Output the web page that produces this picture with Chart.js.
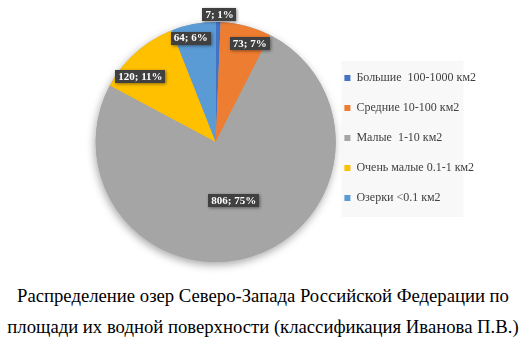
<!DOCTYPE html>
<html><head><meta charset="utf-8">
<script src="https://cdn.jsdelivr.net/npm/chart.js@4"></script>
<style>
html,body{margin:0;padding:0;background:#fff;width:526px;height:354px;overflow:hidden;}
#wrap{position:absolute;left:0;top:0;width:526px;height:275px;}
#cap{position:absolute;left:0;top:280px;width:526px;text-align:center;font-family:"Liberation Serif",serif;font-size:18.7px;line-height:31px;color:#000;white-space:nowrap;}
</style></head>
<body>
<div id="wrap"><canvas id="c" width="526" height="275"></canvas></div>
<div id="cap">Распределение озер Северо-Запада Российской Федерации по<br>площади их водной поверхности (классификация Иванова П.В.)</div>
<script>
const categories = ["Большие  100-1000 км2","Средние 10-100 км2","Малые  1-10 км2","Очень малые 0.1-1 км2","Озерки <0.1 км2"];
const counts = [7, 73, 806, 120, 64];
const percents = [1, 7, 75, 11, 6];
const colors = ["#4472C4","#ED7D31","#A5A5A5","#FFC000","#5B9BD5"];

const labelRadius = [1.06, 0.87, 0.51, 0.83, 0.89];
const labelAngleShift = [0.6, 4.4, 0.3, -7.4, -2.7];
const FONT = '"Liberation Serif", serif';

const shadowPlugin = {
  id:'pieShadow',
  beforeDatasetsDraw(chart){
    const arc = chart.getDatasetMeta(0).data[0];
    if(!arc) return;
    const ctx = chart.ctx;
    ctx.save();
    ctx.shadowColor = 'rgba(0,0,0,0.35)';
    ctx.shadowBlur = 8;
    ctx.shadowOffsetX = -1;
    ctx.shadowOffsetY = 3;
    ctx.fillStyle = '#A5A5A5';
    ctx.beginPath();
    ctx.arc(arc.x, arc.y, arc.outerRadius, 0, Math.PI*2);
    ctx.fill();
    ctx.restore();
  }
};

const legendBg = {
  id:'legendBg',
  beforeDraw(chart){
    const lg = chart.legend;
    if(!lg || !lg.legendHitBoxes || !lg.legendHitBoxes.length) return;
    const hb = lg.legendHitBoxes;
    let t = Math.min(...hb.map(b=>b.top)), bt = Math.max(...hb.map(b=>b.top+b.height));
    let l = Math.min(...hb.map(b=>b.left));
    const ctx = chart.ctx;
    ctx.save();
    ctx.fillStyle = '#F8F8F8';
    ctx.fillRect(l-3, t-11, 122, bt-t+24);
    ctx.restore();
  }
};

const labelPlugin = {
  id:'sliceLabels',
  afterDatasetsDraw(chart){
    const ctx = chart.ctx;
    const meta = chart.getDatasetMeta(0);
    ctx.save();
    ctx.font = 'bold 11px ' + FONT;
    ctx.textAlign = 'center';
    ctx.textBaseline = 'middle';
    meta.data.forEach((arc, i) => {
      const mid = (arc.startAngle + arc.endAngle)/2 + labelAngleShift[i]*Math.PI/180;
      const r = arc.outerRadius * labelRadius[i];
      const x = arc.x + Math.cos(mid)*r;
      const y = arc.y + Math.sin(mid)*r;
      const txt = counts[i] + '; ' + percents[i] + '%';
      const w = ctx.measureText(txt).width + 6;
      const h = 13;
      ctx.save();
      ctx.shadowColor = 'rgba(0,0,0,0.45)';
      ctx.shadowBlur = 3;
      ctx.shadowOffsetX = 1;
      ctx.shadowOffsetY = 1;
      ctx.fillStyle = '#404040';
      ctx.fillRect(Math.round(x - w/2), Math.round(y - h/2), Math.round(w), h);
      ctx.restore();
      ctx.fillStyle = '#FFFFFF';
      ctx.fillText(txt, x, y + 0.5);
    });
    ctx.restore();
  }
};

function build(){
  new Chart(document.getElementById('c'), {
    type:'pie',
    data:{
      labels:categories,
      datasets:[{data:counts, backgroundColor:colors, borderWidth:0}]
    },
    options:{
      responsive:false,
      animation:false,
      radius:120,
      layout:{padding:{left:105, top:22, bottom:13, right:40}},
      plugins:{
        tooltip:{enabled:false},
        legend:{
          position:'right',
          align:'start',
          title:{display:true, text:' ', font:{size:12, lineHeight:1}, padding:10},
          labels:{
            boxWidth:6, boxHeight:6,
            padding:18,
            color:'#404040',
            font:{family:FONT, size:12}
          }
        }
      }
    },
    plugins:[legendBg, shadowPlugin, labelPlugin]
  });
}
if (document.fonts && document.fonts.load) {
  Promise.all([document.fonts.load('12px "Liberation Serif"'), document.fonts.load('bold 11px "Liberation Serif"')]).then(build, build);
} else build();
</script>
</body></html>
